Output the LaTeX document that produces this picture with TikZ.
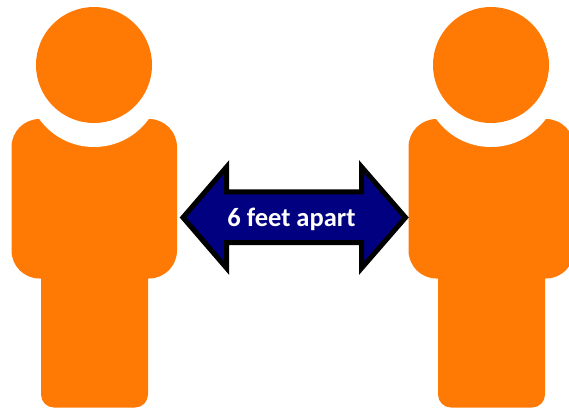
\documentclass[tikz,border=0pt]{standalone}
\usepackage{fontspec}
\setmainfont{Carlito}
\definecolor{personorange}{HTML}{FF7A05}
\definecolor{arrownavy}{HTML}{000080}
\tikzset{
  personfill/.style={fill=personorange,draw=none},
  gapfill/.style={fill=white,draw=none},
  arrowshape/.style={fill=arrownavy,draw=black,line width=5pt,miter limit=10,line join=miter},
  arrowlabel/.style={text=white,font=\bfseries\fontsize{26.5}{30}\selectfont,inner sep=0pt},
  pics/person/.style={code={
    \fill[personfill,rounded corners=28] (-82.5,119) rectangle (83,278.5);
    \fill[personfill,rounded corners=13] (-53,250) rectangle (54,407.5);
    \fill[gapfill] (0,79.5) circle[radius=67.5];
    \fill[personfill] (0,65) circle[radius=58];
  }}
}
\begin{document}
\begin{tikzpicture}[x=1pt,y=-1pt]
\useasboundingbox (0,0) rectangle (569,408);
\clip (0,0) rectangle (569,408);
\pic (left) at (94,0) {person};
\pic (right) at (491,0) {person};
\draw[arrowshape] (183,217.5) -- (226.7,166.8) -- (226.7,191.8) -- (361.5,191.8) -- (361.5,166.8) -- (405.5,217.5) -- (361.5,268.2) -- (361.5,242.5) -- (226.7,242.5) -- (226.7,268.2) -- cycle;
\node[arrowlabel] (lbl) at (291.5,219) {6 feet apart};
\end{tikzpicture}
\end{document}
